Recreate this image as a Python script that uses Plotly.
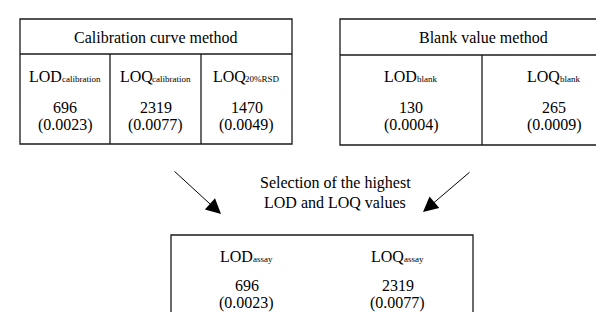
import plotly.graph_objects as go

# ---- data ----
cal_title = "Calibration curve method"
cal_labels = ["LOD", "LOQ", "LOQ"]
cal_subs = ["calibration", "calibration", "20%RSD"]
cal_values = [696, 2319, 1470]
cal_conc = ["0.0023", "0.0077", "0.0049"]

blank_title = "Blank value method"
blank_labels = ["LOD", "LOQ"]
blank_subs = ["blank", "blank"]
blank_values = [130, 265]
blank_conc = ["0.0004", "0.0009"]

sel_text = ["Selection of the highest", "LOD and LOQ values"]

assay_labels = ["LOD", "LOQ"]
assay_subs = ["assay", "assay"]
assay_values = [696, 2319]
assay_conc = ["0.0023", "0.0077"]

FONT = "Liberation Serif, Times New Roman, serif"
W, H = 604, 312
MAIN, SUB = 16, 9
LINE = dict(color="#1a1a1a", width=1.3)

# Times-like advance widths (per 1000 em) used to centre label + subscript
CW = {"L": 611, "O": 722, "D": 722, "Q": 722, "a": 444, "b": 500, "c": 444,
      "i": 278, "l": 278, "n": 500, "k": 500, "o": 500, "r": 333, "t": 278,
      "s": 389, "y": 500, "2": 500, "0": 500, "%": 833, "R": 667, "S": 556}


def tw(s, size):
    return sum(CW.get(ch, 500) for ch in s) / 1000 * size


fig = go.Figure()
shapes = []
ann = []


def text(x, y, s, size=MAIN, xanchor="center"):
    ann.append(dict(x=x, y=y, xref="x", yref="y", text=s, showarrow=False,
                    borderpad=0, borderwidth=0,
                    font=dict(family=FONT, size=size, color="black"),
                    xanchor=xanchor, yanchor="middle"))


def label(x, y, main, sub):
    wm, ws = tw(main, MAIN), tw(sub, SUB)
    xs = x + (wm - ws) / 2
    text(xs, y, main, MAIN, "right")
    text(xs - 0.5, y + 3, sub, SUB, "left")


def box(x0, x1, y0, y1, header_y=None, cols=()):
    shapes.append(dict(type="rect", xref="x", yref="y", x0=x0, x1=x1, y0=y0, y1=y1,
                       line=LINE, fillcolor="rgba(0,0,0,0)"))
    if header_y is not None:
        shapes.append(dict(type="line", xref="x", yref="y", x0=x0, x1=x1,
                           y0=header_y, y1=header_y, line=LINE))
    for c in cols:
        shapes.append(dict(type="line", xref="x", yref="y", x0=c, x1=c,
                           y0=header_y if header_y is not None else y0, y1=y1, line=LINE))


# calibration box
cx0, cx1, cy0, cy1, chy = 12, 284, 11, 136, 46
ccols = [102, 193]
box(cx0, cx1, cy0, cy1, chy, ccols)
text((cx0 + cx1) / 2, 29, cal_title)
edges = [cx0] + ccols + [cx1]
for i in range(len(cal_labels)):
    xc = (edges[i] + edges[i + 1]) / 2
    label(xc, 68, cal_labels[i], cal_subs[i])
    text(xc, 99, str(cal_values[i]))
    text(xc, 117, f"({cal_conc[i]})")

# blank box (extends past right edge)
bx0, bx1, by0, by1, bhy = 332, 618, 11, 137, 47
bcols = [474]
box(bx0, bx1, by0, by1, bhy, bcols)
text((bx0 + bx1) / 2, 29, blank_title)
edges = [bx0] + bcols + [bx1]
for i in range(len(blank_labels)):
    xc = (edges[i] + edges[i + 1]) / 2
    label(xc, 68, blank_labels[i], blank_subs[i])
    text(xc, 99, str(blank_values[i]))
    text(xc, 117, f"({blank_conc[i]})")

# selection text
text(327, 175, sel_text[0])
text(327, 194, sel_text[1])

# arrows
for (x0, y0, x1, y1) in [(165, 162, 213, 206), (463, 163, 415, 204)]:
    ann.append(dict(x=x1, y=y1, ax=x0, ay=y0, xref="x", yref="y", axref="x", ayref="y",
                    text="", showarrow=True, arrowhead=2, arrowsize=3, arrowwidth=1,
                    arrowcolor="black"))

# assay box (extends below bottom)
ax0, ax1, ay0, ay1 = 163, 465, 227, 330
box(ax0, ax1, ay0, ay1)
for i in range(len(assay_labels)):
    xc = ax0 + (ax1 - ax0) * (2 * i + 1) / 4
    label(xc, 248, assay_labels[i], assay_subs[i])
    text(xc, 277, str(assay_values[i]))
    text(xc, 295, f"({assay_conc[i]})")

fig.update_layout(
    width=W, height=H, margin=dict(l=0, r=0, t=0, b=0),
    paper_bgcolor="white", plot_bgcolor="white",
    xaxis=dict(range=[0, W], visible=False, fixedrange=True),
    yaxis=dict(range=[H, 0], visible=False, fixedrange=True),
    shapes=shapes, annotations=ann, showlegend=False,
)
fig.write_html("out.html")
